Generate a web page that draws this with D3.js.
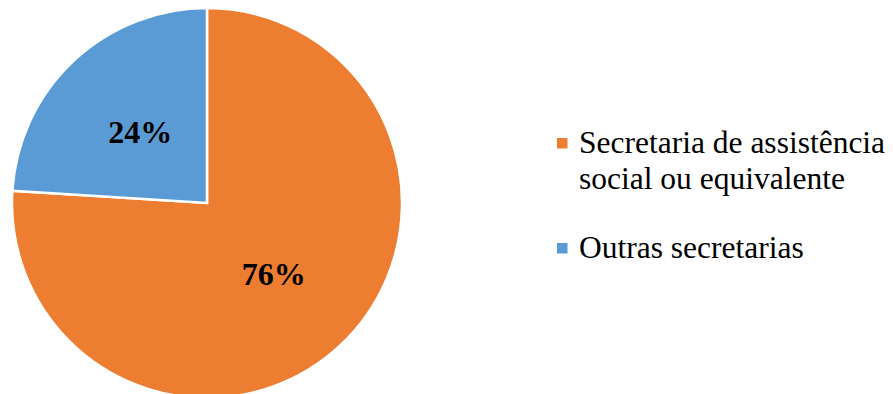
<!DOCTYPE html>
<html lang="pt">

<head>
  <meta charset="UTF-8">
  <title>Secretarias</title>
  <script src="https://d3js.org/d3.v7.min.js"></script>
  <style>
    body {
      margin: 0;
      background: #fff;
    }

    .label {
      font-family: "Liberation Serif", "Times New Roman", serif;
      font-weight: bold;
      font-size: 32px;
      fill: #000;
    }

    .legend text {
      font-family: "Liberation Serif", "Times New Roman", serif;
      font-size: 31.5px;
      fill: #000;
    }
  </style>
</head>

<body>
  <div id="chart"></div>

  <script>
    // data
    const categories = ["Secretaria de assistência social ou equivalente", "Outras secretarias"];
    const legendLines = [["Secretaria de assistência", "social ou equivalente"], ["Outras secretarias"]];
    const values = [76, 24];
    const colors = ["#ED7D31", "#5B9BD5"];

    const width = 893, height = 394;
    const cx = 207, cy = 203, radius = 195;

    const svg = d3.select("#chart")
      .append("svg")
      .attr("width", width)
      .attr("height", height);

    const data = categories.map((c, i) => ({ name: c, value: values[i], color: colors[i] }));

    const pie = d3.pie()
      .sort(null)
      .value(d => d.value);

    const arc = d3.arc()
      .innerRadius(0)
      .outerRadius(radius);

    const g = svg.append("g")
      .attr("transform", `translate(${cx},${cy})`);

    const arcs = pie(data);

    g.selectAll("path")
      .data(arcs)
      .enter()
      .append("path")
      .attr("d", arc)
      .attr("fill", d => d.data.color)
      .attr("stroke", "#fff")
      .attr("stroke-width", 2.5)
      .attr("stroke-linejoin", "miter");

    g.selectAll(".label")
      .data(arcs)
      .enter()
      .append("text")
      .attr("class", "label")
      .attr("transform", d => `translate(${arc.centroid(d)})`)
      .attr("text-anchor", "middle")
      .attr("dy", "0.35em")
      .text(d => d.data.value + "%");

    // legend
    const legend = svg.append("g")
      .attr("class", "legend");

    const legendY = [153, 258];

    const item = legend.selectAll("g")
      .data(data)
      .enter().append("g")
      .attr("transform", (d, i) => `translate(557,${legendY[i]})`);

    item.append("rect")
      .attr("x", 0)
      .attr("y", -15)
      .attr("width", 10.5)
      .attr("height", 10.5)
      .attr("fill", d => d.color);

    item.append("text")
      .attr("x", 22)
      .selectAll("tspan")
      .data((d, i) => legendLines[i])
      .enter().append("tspan")
      .attr("x", 22)
      .attr("dy", (d, j) => j === 0 ? 0 : 36)
      .text(d => d);
  </script>
</body>

</html>
